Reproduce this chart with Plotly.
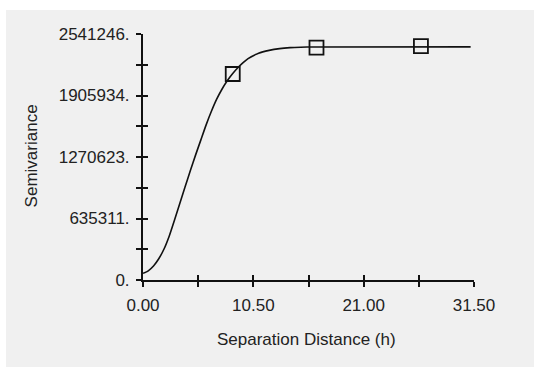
import plotly.graph_objects as go

# Fitted semivariogram model curve
curve_x = [0.0, 0.5, 1.0, 1.5, 2.0, 2.5, 3.0, 3.5, 4.0, 4.5, 5.0, 5.5, 6.0, 6.5,
           7.0, 7.5, 8.0, 8.5, 9.0, 9.5, 10.0, 11.0, 12.0, 13.0, 14.0, 15.0, 16.0, 31.18]
curve_y = [69000, 95000, 145000, 220000, 320000, 455000, 620000, 790000, 960000,
           1128000, 1290000, 1445000, 1600000, 1740000, 1865000, 1968000, 2055000,
           2128000, 2190000, 2243000, 2287000, 2343000, 2372000, 2390000, 2400000,
           2405000, 2407000, 2408000]

# Experimental semivariance points
sample_x = [8.54, 16.51, 26.45]
sample_y = [2128000, 2400000, 2417000]

# Axis ticks
x_major = [0.0, 10.5, 21.0, 31.5]
x_labels = ["0.00", "10.50", "21.00", "31.50"]
x_minor_step = 5.25
y_major = [0, 635311.5, 1270623, 1905934.5, 2541246]
y_labels = ["0.", "635311.", "1270623.", "1905934.", "2541246."]
y_minor_step = 317655.75

x_range = [0, 31.5]
y_range = [0, 2541246]

ink = "#111111"
txt = "#222222"
font = dict(family="Liberation Sans, Arial, sans-serif", size=17, color=txt)

fig = go.Figure()
fig.add_trace(go.Scatter(x=curve_x, y=curve_y, mode="lines",
                         line=dict(color=ink, width=1.6, shape="spline", smoothing=0.6),
                         hoverinfo="skip", showlegend=False))
fig.add_trace(go.Scatter(x=sample_x, y=sample_y, mode="markers",
                         marker=dict(symbol="square-open", size=14, color=ink,
                                     line=dict(width=1.8, color=ink)),
                         showlegend=False))

axis_common = dict(showgrid=False, zeroline=False)
tk = dict(ticklen=5, tickwidth=1.8, tickcolor=ink)

fig.update_layout(
    width=534, height=367,
    margin=dict(l=143, r=60.3, t=34, b=87, pad=0),
    paper_bgcolor="#f0f0f0",
    plot_bgcolor="rgba(0,0,0,0)",
    font=font,
    xaxis=dict(range=x_range, tickvals=x_major, ticktext=x_labels, ticks="outside", **tk,
               minor=dict(dtick=x_minor_step, tick0=0, ticks="outside", **tk),
               showline=True, linecolor=ink, linewidth=2,
               tickfont=font, ticklabelstandoff=4, **axis_common),
    yaxis=dict(range=y_range, tickvals=y_major, ticktext=y_labels, ticks="outside", **tk,
               minor=dict(dtick=y_minor_step, tick0=0, ticks="outside", **tk),
               showline=True, linecolor=ink, linewidth=2,
               tickfont=font, ticklabelstandoff=3, **axis_common),
    xaxis2=dict(range=x_range, overlaying="x", anchor="y", side="bottom",
                tickvals=x_major, showticklabels=False, ticks="inside", **tk,
                minor=dict(dtick=x_minor_step, tick0=0, ticks="inside", **tk),
                showline=False, **axis_common),
    yaxis2=dict(range=y_range, overlaying="y", anchor="x", side="left",
                tickvals=y_major, showticklabels=False, ticks="inside", **tk,
                minor=dict(dtick=y_minor_step, tick0=0, ticks="inside", **tk),
                showline=False, **axis_common),
    shapes=[
        dict(type="rect", xref="paper", yref="paper", layer="below",
             x0=-1.0, x1=-0.414, y0=-1.0, y1=2.0,
             fillcolor="white", line=dict(width=0)),
        dict(type="rect", xref="paper", yref="paper", layer="below",
             x0=-1.0, x1=2.0, y0=1.0976, y1=2.0,
             fillcolor="white", line=dict(width=0)),
    ],
    annotations=[
        dict(text="Semivariance", xref="paper", yref="paper", x=-0.3357, y=0.506,
             textangle=-90, showarrow=False, font=font, xanchor="center", yanchor="middle"),
        dict(text="Separation Distance (h)", xref="paper", yref="paper", x=0.493, y=-0.24,
             showarrow=False, font=font, xanchor="center", yanchor="middle"),
    ],
)
fig.add_trace(go.Scatter(x=[None], y=[None], xaxis="x2", yaxis="y2", showlegend=False))

fig.write_html("out.html",
               post_script="document.body.style.margin='0';document.body.style.background='#f0f0f0';")
